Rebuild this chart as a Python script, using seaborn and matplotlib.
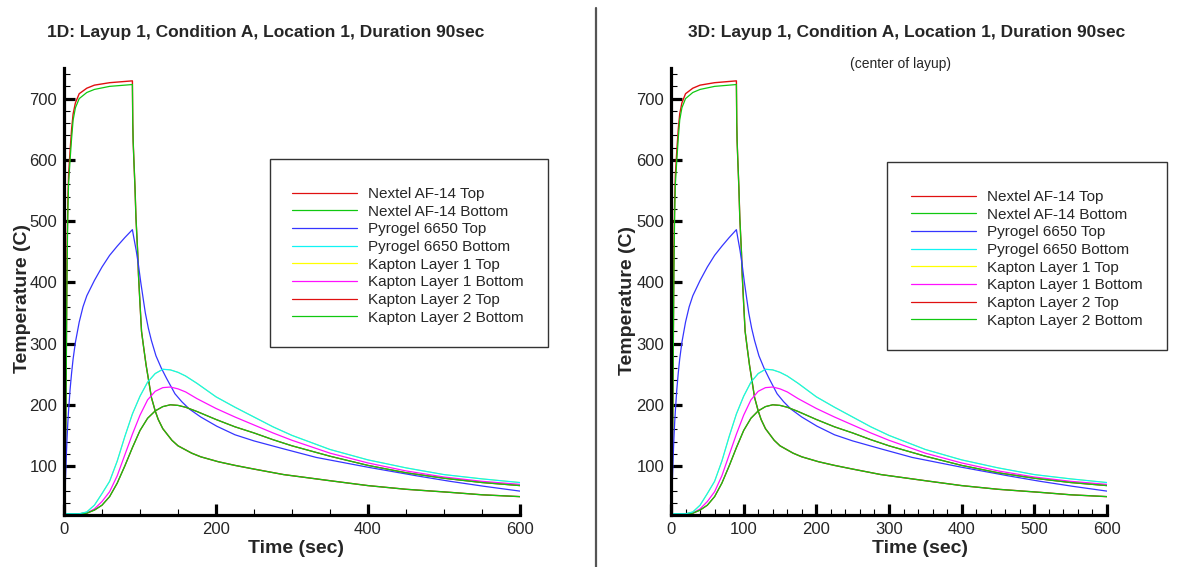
import matplotlib
matplotlib.use("Agg")
import matplotlib.pyplot as plt
from matplotlib.lines import Line2D
from matplotlib.patches import Rectangle
from matplotlib.ticker import MultipleLocator
import seaborn as sns

# ---------------------------------------------------------------- data
# Nextel AF-14 (outer fabric) – heated for 90 s, then cooling
t_nextel = [0, 2, 3, 4, 5, 6, 8, 10, 12, 15, 20, 30, 40, 60, 90,
            90.5, 91, 92, 93.4, 94.7, 97, 98, 100, 102, 105, 108, 112, 115,
            120, 124, 130, 142, 150, 168, 180, 203, 225, 250, 289, 350, 400,
            450, 508, 550, 600]
nextel_top = [22, 120, 280, 450, 530, 575, 615, 650, 675, 693, 708, 717, 722, 726, 729,
              660, 630, 598, 555, 505, 448, 412, 365, 320, 292, 265, 235, 212,
              190, 176, 161, 142, 133, 121, 115, 107, 101, 95, 86, 76, 68,
              62, 57, 53, 50]
nextel_bottom = [22, 100, 250, 420, 510, 560, 600, 635, 665, 685, 700, 710, 715, 720, 723,
                 660, 630, 598, 555, 505, 448, 412, 365, 320, 292, 265, 235, 212,
                 190, 176, 161, 142, 133, 121, 115, 107, 101, 95, 86, 76, 68,
                 62, 57, 53, 50]

# Pyrogel 6650 top face
t_pyro = [0, 1, 2, 3, 4, 5, 6, 8, 10, 12, 15, 20, 25, 30, 40, 50, 60, 70, 80, 90,
          92, 95, 98, 101, 104, 107, 111, 115, 121, 128, 135, 146, 155, 165, 180,
          201, 225, 250, 289, 332, 400, 464, 508, 552, 600]
pyro_top = [22, 45, 80, 115, 145, 170, 190, 225, 252, 275, 302, 335, 360, 378, 403,
            425, 444, 459, 473, 486, 472, 452, 428, 400, 375, 350, 325, 305, 280,
            260, 243, 218, 205, 193, 180, 165, 151, 141, 128, 114, 98, 84, 75, 67, 59]

# Inner layers
t_inner = [0, 20, 30, 40, 50, 60, 70, 80, 90, 100, 110, 120, 130, 140, 150, 160,
           175, 200, 225, 250, 275, 300, 350, 400, 450, 500, 550, 600]
pyro_bottom = [22, 22, 25, 36, 55, 75, 108, 148, 185, 214, 237, 251, 258, 257,
               253, 247, 235, 213, 196, 180, 164, 150, 127, 110, 97, 86, 79, 73]
kapton1_top = [22, 22, 25, 36, 55, 75, 108, 148, 185, 214, 237, 251, 258, 257,
               253, 247, 235, 213, 196, 180, 164, 150, 127, 110, 97, 86, 79, 73]
kapton1_bottom = [22, 22, 23, 30, 42, 58, 84, 118, 152, 183, 208, 222, 228, 229,
                  226, 221, 210, 194, 180, 167, 154, 142, 121, 105, 92, 82, 75, 70]
kapton2_top = [22, 22, 23, 28, 36, 50, 72, 100, 130, 158, 178, 190, 197, 200,
               199, 196, 189, 176, 164, 154, 143, 133, 116, 101, 89, 80, 73, 68]
kapton2_bottom = [22, 22, 23, 28, 36, 50, 72, 100, 130, 158, 178, 190, 197, 200,
                  199, 196, 189, 176, 164, 154, 143, 133, 116, 101, 89, 80, 73, 68]

series_names = ["Nextel AF-14 Top", "Nextel AF-14 Bottom", "Pyrogel 6650 Top",
                "Pyrogel 6650 Bottom", "Kapton Layer 1 Top", "Kapton Layer 1 Bottom",
                "Kapton Layer 2 Top", "Kapton Layer 2 Bottom"]
series_data = [(t_nextel, nextel_top), (t_nextel, nextel_bottom), (t_pyro, pyro_top),
               (t_inner, pyro_bottom), (t_inner, kapton1_top), (t_inner, kapton1_bottom),
               (t_inner, kapton2_top), (t_inner, kapton2_bottom)]
series_colors = ["#e01010", "#10c810", "#3535ff", "#10f4f4",
                 "#ffff00", "#ff10ff", "#e01010", "#10c810"]
series_widths = [1.0, 0.9, 0.9, 0.9, 0.7, 0.9, 0.9, 0.9]
series_z = [2.0, 2.0, 2.0, 2.1, 1.9, 2.0, 2.0, 2.0]

left_xticks = [0, 200, 400, 600]
right_xticks = [0, 100, 200, 300, 400, 500, 600]
yticks = [100, 200, 300, 400, 500, 600, 700]

title_1d = "1D: Layup 1, Condition A, Location 1, Duration 90sec"
title_3d = "3D: Layup 1, Condition A, Location 1, Duration 90sec"
subtitle_3d = "(center of layup)"

# ---------------------------------------------------------------- style
sns.set_theme(style="white")
plt.rcParams["font.family"] = ["Liberation Sans", "DejaVu Sans"]

W, H = 1181, 567
fig = plt.figure(figsize=(W / 100, H / 100), dpi=100)
fig.patch.set_facecolor("white")


def fx(px):
    return px / W


def fy(py):
    return 1 - py / H


def draw_panel(ax, xticks, xminor, legend_pos, frame_box, xlabel_x, ylabel_x, ylabel_y):
    for name, (tt, vals), col, lw, z in zip(series_names, series_data, series_colors,
                                            series_widths, series_z):
        sns.lineplot(x=tt, y=vals, ax=ax, color=col, lw=lw, label=name,
                     sort=False, estimator=None, zorder=z)
    ax.set_xlim(0, 600)
    ax.set_ylim(20, 750)
    ax.set_xticks(xticks)
    ax.set_yticks(yticks)
    ax.xaxis.set_minor_locator(MultipleLocator(xminor))
    ax.yaxis.set_minor_locator(MultipleLocator(20))
    for side in ("top", "right"):
        ax.spines[side].set_visible(False)
    for side in ("left", "bottom"):
        ax.spines[side].set_linewidth(2.3)
        ax.spines[side].set_color("black")
        ax.spines[side].set_zorder(3)
    ax.tick_params(which="major", direction="in", length=8, width=2.3,
                   color="black", labelsize=12, pad=5, bottom=True, left=True)
    ax.tick_params(which="minor", direction="in", length=4.5, width=0.8,
                   color="black", bottom=True, left=True)
    ax.set_facecolor("white")
    ax.grid(False)

    ax.set_xlabel("Time (sec)", fontsize=14, fontweight="bold")
    ax.set_ylabel("Temperature (C)", fontsize=14, fontweight="bold")
    ax.xaxis.label.set_va("center")
    ax.yaxis.label.set_va("center")
    ax.xaxis.set_label_coords(xlabel_x, -0.074)
    ax.yaxis.set_label_coords(ylabel_x, ylabel_y)

    handles, labels = ax.get_legend_handles_labels()
    leg = ax.legend(handles, labels, loc="upper left",
                    bbox_to_anchor=(fx(legend_pos[0]), fy(legend_pos[1])),
                    bbox_transform=fig.transFigure, frameon=False, fontsize=11,
                    handlelength=4.25, handletextpad=0.72, labelspacing=0.24,
                    borderpad=0, borderaxespad=0)
    for line in leg.get_lines():
        line.set_linewidth(0.9)
    x0, y0, x1, y1 = frame_box
    fig.add_artist(Rectangle((fx(x0), fy(y1)), fx(x1 - x0), (y1 - y0) / H,
                             transform=fig.transFigure, fill=False,
                             ec="#333333", lw=1.0))


ax1 = fig.add_axes([fx(64), fy(515), fx(456), 447 / H])
draw_panel(ax1, left_xticks, 50, (292, 187), (270, 159, 548, 347),
           0.509, -0.092, 0.485)

ax2 = fig.add_axes([fx(671), fy(515), fx(436), 447 / H])
draw_panel(ax2, right_xticks, 20, (911, 190), (887, 162, 1167, 350),
           0.571, -0.100, 0.479)

fig.text(fx(265.5), fy(32), title_1d, ha="center", va="center",
         fontsize=12.5, fontweight="bold")
fig.text(fx(907), fy(33), title_3d, ha="center", va="center",
         fontsize=12.5, fontweight="bold")
fig.text(fx(900), fy(64), subtitle_3d, ha="center", va="center", fontsize=10)

# separator between the two panels
fig.add_artist(Line2D([fx(596), fx(596)], [0, fy(8)], transform=fig.transFigure,
                      color="#555555", lw=1.6))

fig.savefig("out.png", dpi=100, facecolor="white")
